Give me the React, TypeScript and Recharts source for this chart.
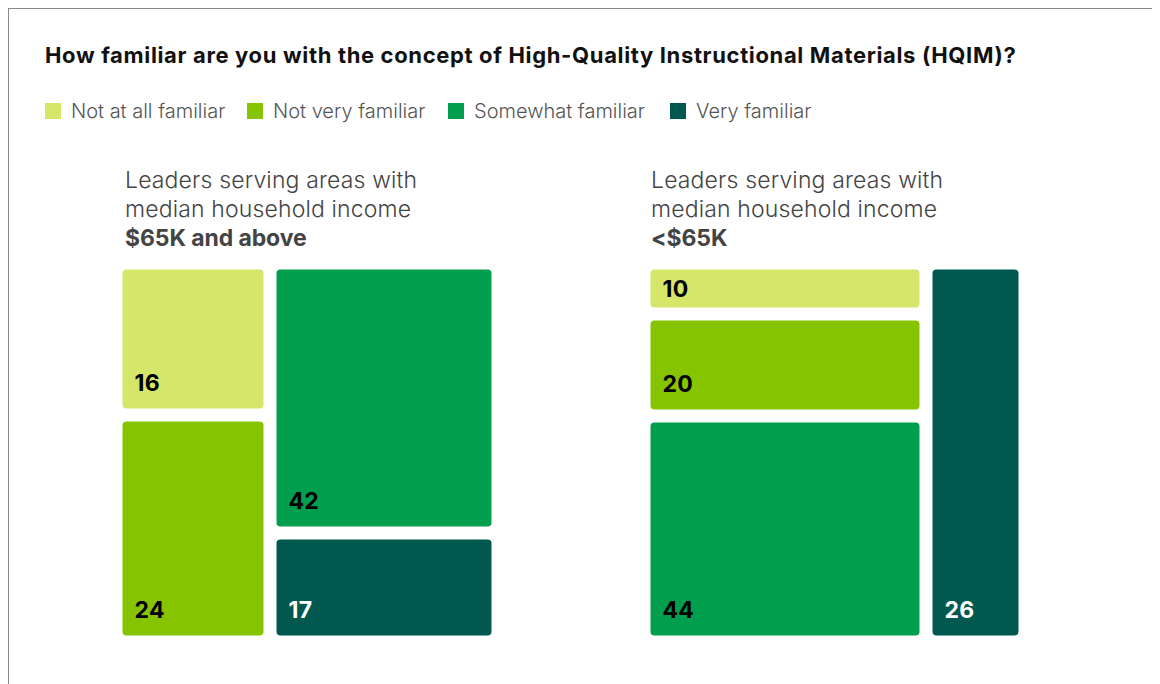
import React from 'react';
import { Treemap } from 'recharts';

// Categories and colours (legend order)
const categories = ['Not at all familiar', 'Not very familiar', 'Somewhat familiar', 'Very familiar'];
const colors = ['#d5e66a', '#86c400', '#009e4d', '#00584f'];
const labelColors = ['#000', '#000', '#000', '#fff'];

// Percent of leaders, by area income
const highIncome = [16, 24, 42, 17];
const lowIncome = [10, 20, 44, 26];

// Which categories share a column in each treemap
const highIncomeColumns = [[0, 1], [2, 3]];
const lowIncomeColumns = [[0, 1, 2], [3]];

const GAP = 6.5;
const FONT = 'Inter, "Noto Sans", sans-serif';

const toTree = (values: number[], columns: number[][]) =>
  columns.map((col, i) => ({
    name: `column-${i}`,
    children: col.map(ci => ({
      name: categories[ci],
      size: values[ci],
      color: colors[ci],
      labelColor: labelColors[ci],
    })),
  }));

const TileContent = (props: any) => {
  const { x, y, width, height, depth, color, labelColor, value } = props;
  if (depth !== 2) return null;
  const rx = x + GAP;
  const ry = y + GAP;
  const rw = width - GAP * 2;
  const rh = height - GAP * 2;
  return (
    <g>
      <rect x={rx} y={ry} width={rw} height={rh} rx={4} ry={4} fill={color} stroke="none" />
      <text
        x={rx + 12}
        y={Math.max(ry + rh - 18, ry + 27)}
        fill={labelColor}
        fontFamily={FONT}
        fontWeight={700}
        fontSize={23}
        letterSpacing={0.3}
      >
        {value}
      </text>
    </g>
  );
};

const PanelTitle = ({ left, bold }: { left: number; bold: string }) => (
  <div
    style={{
      position: 'absolute',
      left,
      top: 157,
      fontSize: 23,
      letterSpacing: 0.15,
      lineHeight: '29px',
      fontWeight: 300,
      color: '#444',
    }}
  >
    <div>Leaders serving areas with</div>
    <div>median household income</div>
    <div style={{ fontWeight: 700, letterSpacing: -0.1 }}>{bold}</div>
  </div>
);

const App = () => {
  const legendX = [36, 238, 439, 661];
  return (
    <div
      style={{
        position: 'relative',
        width: 1150,
        height: 700,
        border: '1px solid #8a8a8a',
        fontFamily: FONT,
        background: '#fff',
      }}
    >
      <div
        style={{
          position: 'absolute',
          left: 36,
          top: 33,
          fontSize: 22,
          letterSpacing: 0.65,
          fontWeight: 700,
          color: '#111',
          whiteSpace: 'nowrap',
        }}
      >
        How familiar are you with the concept of High-Quality Instructional Materials (HQIM)?
      </div>

      {categories.map((c, i) => (
        <div
          key={c}
          style={{
            position: 'absolute',
            left: legendX[i],
            top: 90,
            display: 'flex',
            alignItems: 'center',
            gap: 10,
            fontSize: 20,
            fontWeight: 300,
            color: '#555',
          }}
        >
          <div style={{ width: 16, height: 16, background: colors[i] }} />
          <span>{c}</span>
        </div>
      ))}

      <PanelTitle left={116} bold="$65K and above" />
      <PanelTitle left={642} bold="<$65K" />

      <div style={{ position: 'absolute', left: 107, top: 254 }}>
        <Treemap
          width={382}
          height={379}
          data={toTree(highIncome, highIncomeColumns)}
          dataKey="size"
          aspectRatio={0.5}
          isAnimationActive={false}
          content={<TileContent />}
        />
      </div>

      <div style={{ position: 'absolute', left: 634.5, top: 254 }}>
        <Treemap
          width={381}
          height={379}
          data={toTree(lowIncome, lowIncomeColumns)}
          dataKey="size"
          aspectRatio={0.5}
          isAnimationActive={false}
          content={<TileContent />}
        />
      </div>
    </div>
  );
};

export default App;
